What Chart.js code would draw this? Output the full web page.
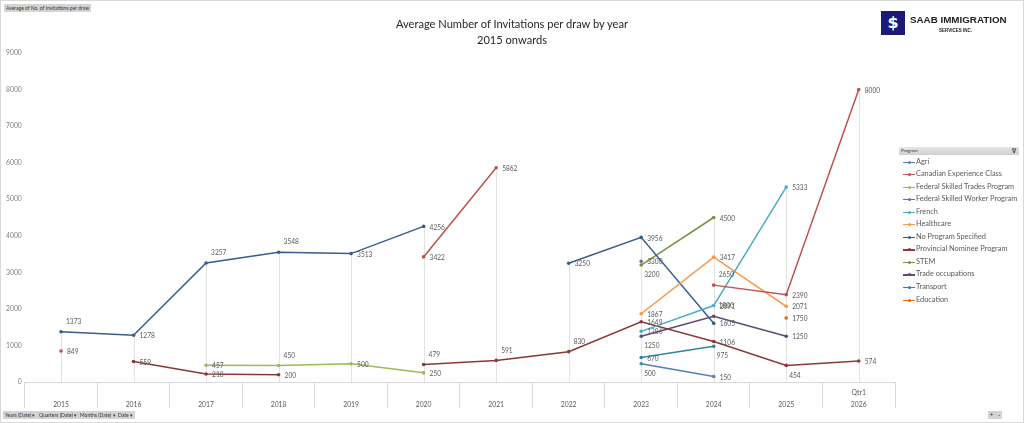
<!DOCTYPE html>
<html>
<head>
<meta charset="utf-8">
<script src="https://cdn.jsdelivr.net/npm/chart.js@4.4.1/dist/chart.umd.min.js"></script>
<style>
  html, body { margin: 0; padding: 0; background: #fff; }
  body { width: 1024px; height: 423px; position: relative; overflow: hidden; font-family: Lato, "Liberation Sans", sans-serif; }
  #frame { position: absolute; left: 0; top: 0; width: 1022px; height: 421px; border: 1px solid #d9d9d9; }
  canvas { position: absolute; left: 0; top: 0; }
  #title { position: absolute; left: 0; top: 16px; width: 1024px; text-align: center; font-size: 11.1px; line-height: 16px; color: #262626; }
  .btn { position: absolute; background: #d4d4d4; color: #333; font-size: 5px; line-height: 8px; height: 8px; padding: 0 2px; white-space: nowrap; }
  #logo { position: absolute; left: 881px; top: 11px; }
  #logo .mark { position: absolute; left: 0; top: 0; width: 24px; height: 24px; background: #1c1a78; color: #fff; font: bold 16px/24px "DejaVu Sans", sans-serif; text-align: center; }
  #logo .name { position: absolute; left: 29px; top: 3px; font: bold 9.8px/12px "Liberation Sans", sans-serif; color: #222; white-space: nowrap; }
  #logo .sub { position: absolute; left: 58px; top: 17px; font: bold 4.5px/6px "Liberation Sans", sans-serif; color: #222; white-space: nowrap; }
  #legendHead { position: absolute; left: 899px; top: 147px; width: 120px; height: 8px; background: linear-gradient(#e6e6e6, #cfcfcf); font-size: 4.5px; line-height: 8px; color: #333; padding-left: 2px; box-sizing: border-box; }
  #legendHead b { position: absolute; right: 3px; top: 0; font-size: 6px; }
  #legend { position: absolute; left: 903px; top: 155.5px; }
  .item { height: 12.55px; line-height: 12.55px; font-size: 7.35px; color: #595959; white-space: nowrap; position: relative; padding-left: 13px; }
  .item .sw { position: absolute; left: 0; top: 6px; width: 12px; height: 1.2px; }
  .item .sw i { position: absolute; left: 4.5px; top: -1px; width: 3px; height: 3px; border-radius: 50%; }
</style>
</head>
<body>
<div id="frame"></div>
<canvas id="chart" width="1024" height="423"></canvas>
<div id="title">Average Number of Invitations per draw by year<br>2015 onwards</div>
<div class="btn" style="left:4px; top:4px;">Average of No. of Invitations per draw</div>
<div class="btn" style="left:3px; top:411px;">Years (Date) &#9662;</div>
<div class="btn" style="left:37px; top:411px;">Quarters (Date) &#9662;</div>
<div class="btn" style="left:78px; top:411px;">Months (Date) &#9662;</div>
<div class="btn" style="left:116px; top:411px;">Date &#9662;</div>
<div class="btn" style="left:988px; top:411px; font-size:6px;">+ &nbsp; -</div>
<div id="logo">
  <div class="mark">$</div>
  <div class="name">SAAB IMMIGRATION</div>
  <div class="sub">SERVICES INC.</div>
</div>
<div id="legendHead">Program<b>&#8711;</b></div>
<div id="legend"></div>
<script>
const years = ['2015', '2016', '2017', '2018', '2019', '2020', '2021', '2022', '2023', '2024', '2025', '2026'];
const quarters = ['', '', '', '', '', '', '', '', '', '', '', 'Qtr1'];

const agri = [null, null, null, null, null, null, null, null, 500, 150, null, null];
const cec = [849, null, null, null, null, 3422, 5862, null, null, 2650, 2390, 8000];
const fst = [null, null, 457, 450, 500, 250, null, null, null, null, null, null];
const fsw = [null, null, null, null, null, null, null, null, 3300, null, null, null];
const french = [null, null, null, null, null, null, null, null, 1386, 2091, 5333, null];
const healthcare = [null, null, null, null, null, null, null, null, 1867, 3417, 2071, null];
const noProgram = [1373, 1278, 3257, 3548, 3513, 4256, null, 3250, 3956, 1605, null, null];
const pnp = [null, 559, 218, 200, null, 479, 591, 830, 1649, 1106, 454, 574];
const stem = [null, null, null, null, null, null, null, null, 3200, 4500, null, null];
const tradeOcc = [null, null, null, null, null, null, null, null, 1250, 1800, 1250, null];
const transport = [null, null, null, null, null, null, null, null, 670, 975, null, null];
const education = [null, null, null, null, null, null, null, null, null, null, 1750, null];

const yTicks = [0, 1000, 2000, 3000, 4000, 5000, 6000, 7000, 8000, 9000];

// where a value label sits if not to the right of its point
const labelPlacement = {
    'No Program Specified': { 0: 'above', 2: 'above', 3: 'above' },
    'Provincial Nominee Program': { 5: 'above', 6: 'above', 7: 'above', 10: 'below' },
    'Federal Skilled Trades Program': { 3: 'above' },
    'Canadian Experience Class': { 9: 'above' },
    'STEM': { 8: 'below' },
    'Trade occupations': { 8: 'below', 9: 'above' },
    'Transport': { 9: 'below' },
    'Agri': { 8: 'below' }
};

function series(label, data, color) {
    return {
        label: label,
        data: data,
        borderColor: color,
        backgroundColor: color,
        borderWidth: 1.5,
        pointRadius: 1.8,
        pointHoverRadius: 1.8,
        pointBorderWidth: 0,
        tension: 0,
        spanGaps: false
    };
}

const datasets = [
    series('Agri', agri, '#4f81bd'),
    series('Canadian Experience Class', cec, '#c0504d'),
    series('Federal Skilled Trades Program', fst, '#9bbb59'),
    series('Federal Skilled Worker Program', fsw, '#8064a2'),
    series('French', french, '#4bacc6'),
    series('Healthcare', healthcare, '#f79646'),
    series('No Program Specified', noProgram, '#385d8a'),
    series('Provincial Nominee Program', pnp, '#8c3836'),
    series('STEM', stem, '#77933c'),
    series('Trade occupations', tradeOcc, '#5f497a'),
    series('Transport', transport, '#31859c'),
    series('Education', education, '#e46c0a')
];

const dropLines = {
    id: 'dropLines',
    beforeDatasetsDraw(chart) {
        const ctx = chart.ctx;
        const bottom = chart.chartArea.bottom;
        ctx.save();
        ctx.strokeStyle = '#e3e3e3';
        ctx.lineWidth = 1;
        years.forEach((y, j) => {
            let top = null;
            let x = null;
            chart.data.datasets.forEach((ds, i) => {
                if (ds.data[j] == null) return;
                const pt = chart.getDatasetMeta(i).data[j];
                x = pt.x;
                if (top === null || pt.y < top) top = pt.y;
            });
            if (top === null) return;
            ctx.beginPath();
            ctx.moveTo(Math.round(x) + 0.5, top);
            ctx.lineTo(Math.round(x) + 0.5, bottom);
            ctx.stroke();
        });
        ctx.restore();
    }
};

const valueLabels = {
    id: 'valueLabels',
    afterDatasetsDraw(chart) {
        const ctx = chart.ctx;
        ctx.save();
        ctx.font = '6.6px Lato';
        ctx.fillStyle = '#595959';
        ctx.textBaseline = 'middle';
        ctx.textAlign = 'left';
        chart.data.datasets.forEach((ds, i) => {
            const meta = chart.getDatasetMeta(i);
            meta.data.forEach((pt, j) => {
                const v = ds.data[j];
                if (v == null) return;
                const pos = (labelPlacement[ds.label] || {})[j] || 'right';
                if (pos === 'above') {
                    ctx.fillText(String(v), pt.x + 5, pt.y - 10);
                } else if (pos === 'below') {
                    ctx.fillText(String(v), pt.x + 3, pt.y + 10);
                } else {
                    ctx.fillText(String(v), pt.x + 6, pt.y + 1);
                }
            });
        });
        ctx.restore();
    }
};

const chart = new Chart(document.getElementById('chart').getContext('2d'), {
    type: 'line',
    data: {
        labels: years.map((y, i) => [quarters[i], y]),
        datasets: datasets
    },
    options: {
        responsive: false,
        animation: false,
        events: [],
        layout: {
            padding: { left: 3, right: 129, top: 53, bottom: 11 }
        },
        scales: {
            x: {
                offset: true,
                afterFit(scale) {
                    scale.height = 30;
                },
                grid: {
                    offset: true,
                    drawOnChartArea: false,
                    drawTicks: true,
                    tickLength: 26,
                    color: '#d9d9d9'
                },
                border: { display: true, color: '#d9d9d9' },
                ticks: {
                    padding: -21,
                    color: '#595959',
                    font: { family: 'Lato', size: 6.8, lineHeight: 1.75 },
                    maxRotation: 0,
                    autoSkip: false
                }
            },
            y: {
                min: 0,
                max: 9000,
                afterBuildTicks(scale) {
                    scale.ticks = yTicks.map(v => ({ value: v }));
                },
                grid: { display: false, drawTicks: false },
                border: { display: false },
                ticks: {
                    padding: 3,
                    color: '#808080',
                    font: { family: 'Lato', size: 6.8 },
                    callback: v => String(v)
                }
            }
        },
        plugins: {
            legend: { display: false },
            tooltip: { enabled: false },
            title: { display: false }
        }
    },
    plugins: [dropLines, valueLabels]
});

const legendEl = document.getElementById('legend');
chart.data.datasets.forEach(ds => {
    const item = document.createElement('div');
    item.className = 'item';
    item.innerHTML = '<span class="sw" style="background:' + ds.borderColor + '"><i style="background:' + ds.borderColor + '"></i></span>' + ds.label;
    legendEl.appendChild(item);
});
</script>
</body>
</html>
